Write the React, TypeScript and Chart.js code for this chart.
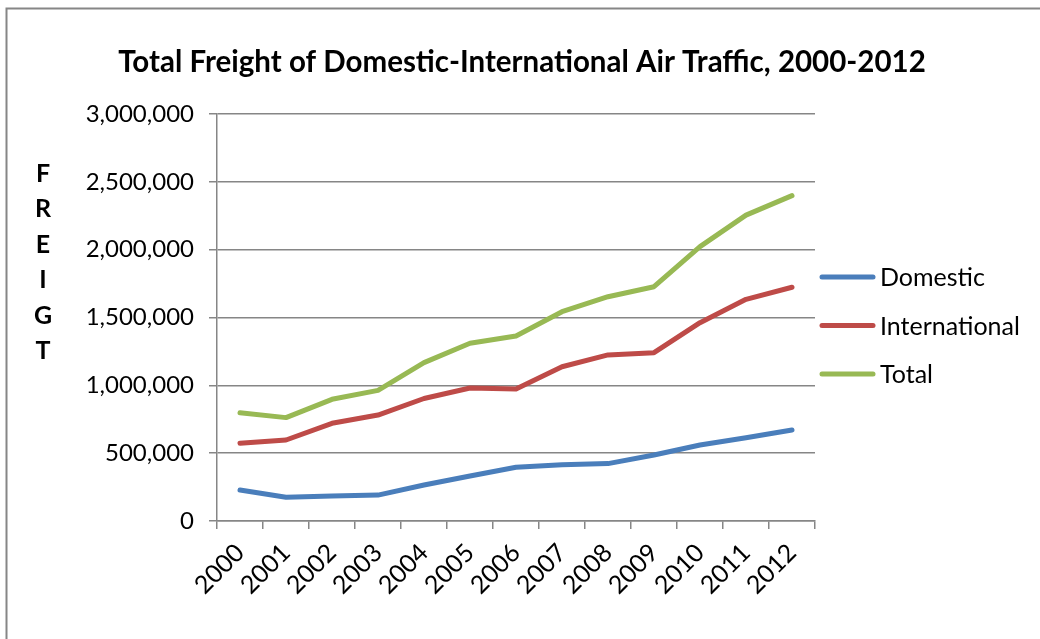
import React, { useEffect, useRef } from 'react';
import { Chart, registerables } from 'chart.js';

Chart.register(...registerables);

const years = ['2000', '2001', '2002', '2003', '2004', '2005', '2006', '2007', '2008', '2009', '2010', '2011', '2012'];
const domestic = [228000, 175000, 184000, 191000, 265000, 332000, 396000, 415000, 423000, 486000, 560000, 614000, 671000];
const international = [573000, 597000, 720000, 781000, 903000, 980000, 973000, 1137000, 1224000, 1241000, 1462000, 1634000, 1723000];
const total = [798000, 762000, 897000, 963000, 1167000, 1310000, 1364000, 1543000, 1653000, 1727000, 2022000, 2255000, 2398000];
const seriesLabels = ['Domestic', 'International', 'Total'];
const seriesColors = ['#4A7EBB', '#BE4B48', '#98B954'];
const yAxisLetters = ['F', 'R', 'E', 'I', 'G', 'T'];
const chartTitle = 'Total Freight of Domestic-International Air Traffic, 2000-2012';
const yMin = 0;
const yMax = 3000000;
const yStep = 500000;

const GRAY = '#868686';
const FONT = 'Lato';

export default function App() {
  const ref = useRef<HTMLCanvasElement>(null);

  useEffect(() => {
    if (!ref.current) return;

    const decor = {
      id: 'decor',
      beforeDraw(chart: any) {
        const ctx = chart.ctx;
        ctx.save();
        ctx.fillStyle = '#ffffff';
        ctx.fillRect(0, 0, chart.width, chart.height);
        ctx.strokeStyle = GRAY;
        ctx.lineWidth = 2;
        ctx.strokeRect(6.5, 8.5, chart.width + 50, chart.height + 50);
        // title
        ctx.fillStyle = '#000';
        ctx.font = `bold 29.5px ${FONT}`;
        ctx.textAlign = 'center';
        ctx.textBaseline = 'middle';
        ctx.fillText(chartTitle, 522, 62);
        ctx.restore();
      },
      afterDraw(chart: any) {
        const ctx = chart.ctx;
        const area = chart.chartArea;
        ctx.save();
        // vertical stacked axis title
        ctx.fillStyle = '#000';
        ctx.font = `bold 25px ${FONT}`;
        ctx.textAlign = 'center';
        ctx.textBaseline = 'middle';
        yAxisLetters.forEach((ch, i) => {
          ctx.fillText(ch, 43, area.top + 60 + i * 35.4);
        });
        // legend
        const cy = (area.top + area.bottom) / 2 + 8;
        chart.data.datasets.forEach((ds: any, i: number) => {
          const y = cy + (i - 1) * 48.5;
          ctx.strokeStyle = ds.borderColor;
          ctx.lineWidth = 5;
          ctx.lineCap = 'round';
          ctx.beginPath();
          ctx.moveTo(area.right + 7, y);
          ctx.lineTo(area.right + 58, y);
          ctx.stroke();
          ctx.fillStyle = '#000';
          ctx.font = `25px ${FONT}`;
          ctx.textAlign = 'left';
          ctx.textBaseline = 'middle';
          ctx.fillText(ds.label, area.right + 65, y + 1);
        });
        ctx.restore();
      },
    };

    const seriesData = [domestic, international, total];

    const chart = new Chart(ref.current, {
      type: 'line',
      data: {
        labels: years,
        datasets: seriesLabels.map((label, i) => ({
          label,
          data: seriesData[i],
          borderColor: seriesColors[i],
          backgroundColor: seriesColors[i],
          borderWidth: 5,
          pointRadius: 0,
          pointHoverRadius: 0,
          tension: 0,
          borderCapStyle: 'round',
          borderJoinStyle: 'round',
          fill: false,
        })),
      },
      options: {
        responsive: false,
        animation: false,
        devicePixelRatio: 1,
        layout: { padding: { left: 0, right: 225, top: 114, bottom: 0 } },
        plugins: {
          legend: { display: false },
          tooltip: { enabled: false },
          title: { display: false },
        },
        scales: {
          x: {
            type: 'category',
            offset: true,
            afterFit: (scale: any) => {
              scale.height = 118;
            },
            grid: {
              display: true,
              drawOnChartArea: false,
              drawTicks: true,
              tickLength: 8,
              offset: true,
              color: GRAY,
              lineWidth: 1.5,
            },
            border: { display: true, color: GRAY, width: 1.5 },
            ticks: {
              color: '#000',
              font: { family: FONT, size: 25 },
              minRotation: 45,
              maxRotation: 45,
              padding: 9,
              autoSkip: false,
            },
          },
          y: {
            min: yMin,
            max: yMax,
            afterFit: (scale: any) => {
              scale.width = 217;
            },
            grid: {
              color: GRAY,
              lineWidth: 1.5,
              tickLength: 8,
              drawTicks: true,
            },
            border: { display: true, color: GRAY, width: 1.5 },
            ticks: {
              stepSize: yStep,
              color: '#000',
              font: { family: FONT, size: 24 },
              padding: 15,
              callback: (v: any) => Number(v).toLocaleString('en-US'),
            },
          },
        },
      },
      plugins: [decor],
    } as any);

    return () => chart.destroy();
  }, []);

  return (
    <div style={{ position: 'absolute', left: 0, top: 0, width: 1040, height: 639, background: '#fff' }}>
      <canvas ref={ref} width={1040} height={639} style={{ display: 'block', width: 1040, height: 639 }} />
    </div>
  );
}
